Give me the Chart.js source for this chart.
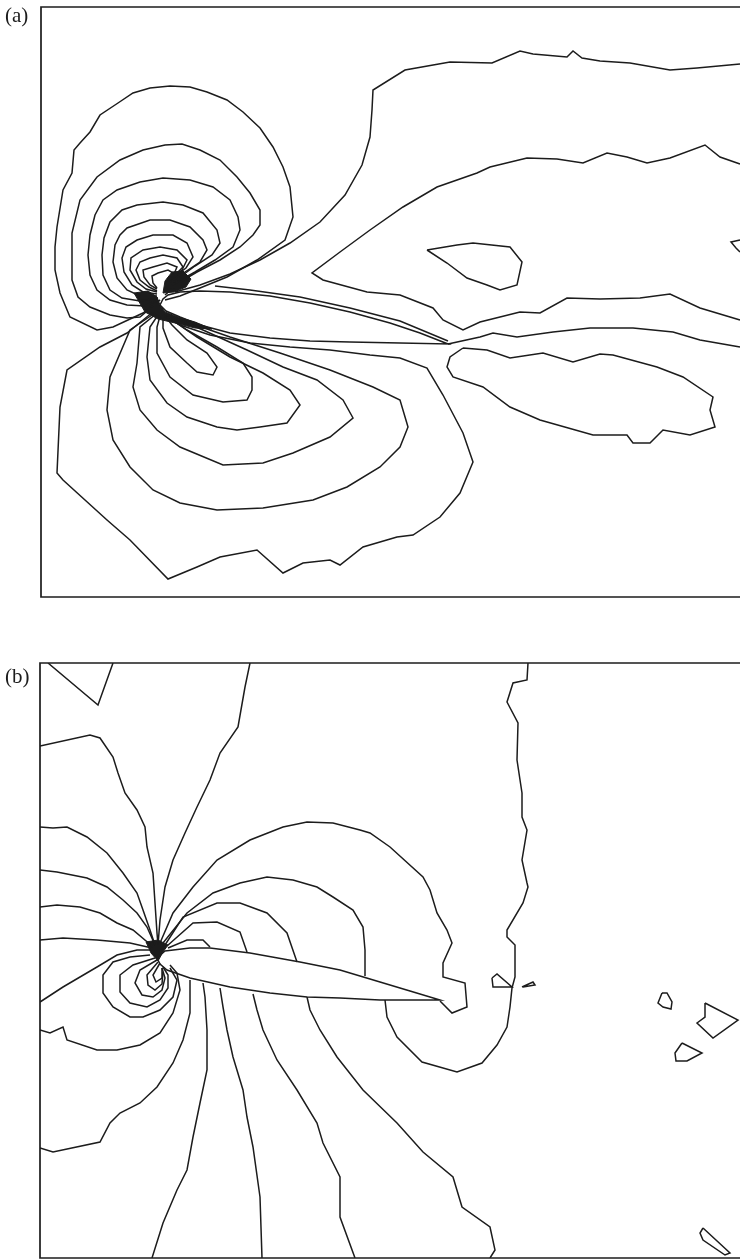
<!DOCTYPE html>
<html>
<head>
<meta charset="utf-8">
<script src="https://cdn.jsdelivr.net/npm/chart.js@4.4.1/dist/chart.umd.min.js"></script>
<style>
  body { margin: 0; background: #fff; width: 740px; height: 1260px; position: relative; overflow: hidden; }
  .panel { position: absolute; left: 0; width: 740px; overflow: hidden; }
  .inner { position: relative; width: 760px; height: 100%; }
  .lbl { position: absolute; left: 5px; font-family: "Liberation Serif", "DejaVu Serif", serif; font-size: 21px; color: #1c1c1c; }
</style>
</head>
<body>
<div class="panel" style="top:0;height:610px"><div class="inner"><canvas id="chartA"></canvas></div></div>
<div class="panel" style="top:620px;height:640px"><div class="inner"><canvas id="chartB"></canvas></div></div>
<div class="lbl" style="top:3px">(a)</div>
<div class="lbl" style="top:664px">(b)</div>
<script>
// ---- panel (a): contour lines, coordinates ----
const aFoil = [[160,305],[163,299],[168,295],[180,292],[200,291],[230,292],[270,296],[310,303],[350,312],[390,323],[420,333],[448,344],
               [400,343],[350,342],[310,341],[270,338],[230,333],[200,325],[180,317],[166,311],[160,305]];
const aBlobUp = [[163,293],[165,281],[172,272],[183,271],[191,279],[186,287],[174,292],[163,293]];
const aBlobLow = [[134,293],[148,291],[157,297],[160,305],[165,312],[178,317],[195,322],[212,329],[195,328],[175,323],[158,319],[145,312],[134,293]];
const aU1 = [[160,300],[143,313],[113,327],[97,330],[70,317],[60,293],[55,270],[55,247],[57,227],[63,190],[72,173],[74,150],[80,143],[90,132],[100,115],[118,103],[133,93],[150,88],[170,86],[190,87],[207,92],[227,100],[243,112],[260,128],[273,147],[283,167],[290,187],[293,217],[285,240],[257,260],[227,277],[200,288],[180,296],[165,300]];
const aU2 = [[160,300],[140,317],[127,318],[110,315],[90,307],[78,297],[72,280],[72,260],[72,233],[80,200],[97,177],[120,160],[143,150],[165,145],[182,144],[200,150],[220,160],[237,177],[250,193],[260,210],[260,225],[253,235],[240,247],[220,260],[197,272],[180,282],[165,295]];
const aU3 = [[158,300],[145,306],[127,305],[110,300],[97,290],[90,275],[88,255],[90,235],[95,215],[103,200],[117,190],[140,182],[163,178],[190,180],[213,187],[230,200],[238,217],[240,230],[233,247],[215,260],[195,272],[172,285]];
const aU4 = [[158,298],[140,301],[122,298],[110,290],[103,275],[102,255],[104,238],[110,222],[122,210],[137,205],[163,202],[183,205],[203,213],[217,230],[220,243],[212,255],[195,266],[172,283]];
const aU5 = [[157,296],[140,296],[127,290],[117,278],[113,262],[115,245],[120,235],[127,228],[150,220],[170,220],[190,227],[203,240],[207,250],[200,262],[185,272],[170,282]];
const aU6 = [[157,294],[143,292],[132,285],[124,272],[122,258],[126,247],[137,240],[153,235],[173,235],[187,243],[193,257],[186,268],[170,280]];
const aU7 = [[157,292],[146,289],[137,282],[130,270],[131,258],[143,250],[160,247],[177,250],[187,260],[182,270],[170,279]];
const aU8 = [[157,291],[149,287],[140,280],[136,270],[140,262],[150,258],[163,255],[177,258],[183,267],[176,274],[168,279]];
const aU9 = [[157,289],[150,285],[144,277],[143,270],[153,267],[167,263],[177,267],[174,274],[167,279]];
const aU10 = [[157,288],[153,283],[152,276],[158,273],[168,270],[177,275],[170,280]];
const aL1 = [[163,318],[163,328],[170,347],[187,363],[197,372],[213,375],[217,367],[207,353],[187,340],[172,325],[165,316]];
const aL2 = [[160,316],[157,327],[157,353],[170,377],[193,395],[223,402],[247,400],[252,390],[252,377],[243,363],[217,347],[187,330],[170,318]];
const aL3 = [[158,315],[150,327],[147,357],[150,380],[167,403],[187,417],[217,427],[237,430],[260,427],[287,423],[300,405],[290,390],[263,373],[230,357],[197,337],[172,320]];
const aL4 = [[156,314],[140,327],[137,363],[133,387],[140,410],[157,430],[180,447],[223,465],[263,463],[293,453],[330,437],[353,418],[343,400],[317,380],[283,367],[247,350],[203,330],[175,318]];
const aL5 = [[155,313],[130,330],[110,377],[107,410],[113,440],[130,467],[153,490],[180,503],[217,510],[263,508],[313,500],[347,487],[380,467],[400,447],[408,427],[400,400],[373,387],[330,370],[280,353],[230,337],[190,323],[168,315]];
const aL6 = [[153,312],[127,333],[100,347],[67,370],[60,407],[57,473],[63,480],[107,520],[130,540],[168,579],[197,567],[220,557],[257,550],[283,573],[303,563],[330,560],[340,565],[363,547],[397,537],[413,535],[440,517],[460,493],[473,462],[463,433],[443,395],[427,368],[400,358],[370,355],[330,350],[290,347],[250,343],[210,335],[180,325],[163,315]];
const aS1 = [[215,286],[250,290],[300,297],[350,308],[400,321],[448,341]];
const aTop = [[740,64],[697,68],[670,70],[630,63],[600,61],[582,58],[573,51],[567,57],[533,54],[520,51],[492,63],[450,62],[405,70],[373,90],[372,110],[370,137],[362,165],[345,195],[320,222],[290,243],[260,260],[230,274],[200,285],[175,292]];
const aWedge = [[740,164],[720,157],[705,145],[670,158],[647,163],[627,157],[607,153],[583,163],[557,159],[527,158],[490,167],[477,173],[437,187],[403,207],[370,230],[340,252],[312,273],[323,280],[367,292],[400,295],[433,308],[443,320],[463,330],[480,322],[500,317],[520,312],[540,313],[567,298],[600,299],[640,298],[670,294],[700,308],[740,320]];
const aWake = [[448,344],[480,337],[493,333],[517,337],[553,332],[590,328],[633,328],[673,332],[700,340],[740,347]];
const aWakeLoop = [[463,348],[450,357],[447,367],[453,377],[483,387],[510,407],[540,420],[593,435],[627,435],[633,443],[650,443],[663,430],[690,435],[715,427],[710,410],[713,397],[683,377],[657,367],[613,355],[600,354],[573,362],[543,353],[510,358],[487,350],[463,348]];
const aIsland = [[427,250],[457,245],[473,243],[510,247],[522,262],[517,285],[500,290],[487,285],[467,278],[447,263],[427,250]];
const aEdge = [[740,240],[731,242],[736,248],[740,252]];

// ---- panel (b) ----
const bFoil = [[157,958],[165,951],[190,948],[210,948],[250,953],[300,962],[340,970],[380,982],[410,991],[440,1000],
               [380,1000],[340,998],[307,997],[270,993],[230,987],[190,978],[167,970],[160,964],[157,958]];
const bBlob = [[146,942],[158,940],[168,945],[163,952],[158,961],[151,953],[146,942]];
const bTri = [[48,663],[98,705],[113,663]];
const bL1 = [[40,746],[90,735],[100,738],[113,757],[118,773],[125,793],[137,810],[145,827],[147,847],[153,873],[155,903],[157,933],[158,945]];
const bL2 = [[250,663],[245,687],[238,727],[220,753],[210,780],[197,807],[185,833],[173,860],[165,887],[160,920],[158,945]];
const bL3 = [[40,827],[53,828],[67,827],[87,837],[107,853],[123,873],[137,893],[143,910],[150,930],[155,945]];
const bL4 = [[40,870],[57,872],[87,878],[107,887],[123,900],[137,913],[147,927],[155,945]];
const bL5 = [[40,907],[57,905],[80,907],[100,913],[117,923],[133,930],[152,946]];
const bL6 = [[40,940],[63,938],[97,940],[130,943],[152,948]];
const bL7 = [[40,1002],[63,987],[97,967],[117,955],[137,950],[153,950]];
const bL8 = [[40,1030],[50,1033],[63,1027],[67,1040],[97,1050],[117,1050],[140,1045],[160,1033],[173,1013],[180,990],[177,973],[170,965]];
const bL9 = [[40,1148],[53,1152],[100,1142],[110,1123],[120,1113],[140,1103],[157,1087],[173,1063],[183,1040],[190,1013],[190,980]];
const bL10 = [[152,1258],[163,1223],[177,1190],[187,1170],[193,1137],[200,1103],[207,1070],[207,1030],[205,997],[203,983]];
const bL11 = [[262,1258],[260,1197],[253,1147],[247,1117],[243,1090],[233,1057],[227,1030],[223,1007],[220,988]];
const bL12 = [[355,1258],[340,1217],[340,1177],[323,1143],[317,1123],[297,1090],[277,1060],[263,1030],[257,1010],[253,994]];
const bL13 = [[307,997],[310,1010],[320,1030],[337,1057],[363,1090],[397,1123],[423,1152],[453,1177],[462,1207],[490,1227],[495,1250],[490,1258]];
const bL14 = [[528,663],[527,680],[513,683],[507,702],[518,723],[517,760],[522,793],[522,817],[527,830],[522,860],[527,883],[528,887],[523,903],[507,930],[507,937],[515,945],[515,977],[512,988],[510,1007],[507,1027],[497,1045],[482,1063],[457,1072],[422,1062],[397,1037],[387,1017],[385,1000]];
const bArc1 = [[160,943],[173,913],[193,887],[217,860],[250,840],[283,827],[307,822],[333,823],[360,830],[370,833],[390,847],[423,877],[430,890],[437,913],[447,930],[452,943],[443,963],[443,977],[465,983],[467,1007],[452,1013],[440,1001]];
const bArc2 = [[163,943],[187,913],[213,893],[240,883],[267,877],[293,880],[317,887],[333,897],[353,910],[363,927],[365,950],[365,976]];
const bArc3 = [[165,945],[183,917],[217,903],[240,903],[267,913],[287,933],[297,962]];
const bArc4 = [[167,946],[193,923],[217,922],[240,932],[247,952]];
const bArc5 = [[168,948],[187,940],[203,940],[210,947]];
const bR1 = [[150,955],[130,957],[113,962],[103,975],[103,993],[113,1007],[130,1017],[143,1017],[160,1010],[173,997],[177,980],[170,968]];
const bR2 = [[155,958],[133,965],[120,975],[120,992],[130,1003],[147,1007],[160,1000],[168,988],[168,975],[163,967]];
const bR3 = [[157,960],[140,970],[135,983],[142,995],[153,997],[162,990],[165,978],[162,968]];
const bR4 = [[158,962],[147,975],[148,985],[155,990],[162,984],[163,972]];
const bR5 = [[160,963],[153,975],[156,982],[162,978],[162,968]];
const bBits = [
  [[492,978],[497,974],[512,987],[500,987],[493,987],[492,978]],
  [[522,987],[533,982],[535,985],[523,987]],
  [[662,993],[667,993],[672,1002],[671,1009],[663,1007],[658,1003],[662,993]],
  [[705,1003],[738,1020],[713,1038],[697,1023],[705,1017],[705,1003]],
  [[682,1043],[702,1053],[687,1061],[676,1061],[675,1053],[682,1043]],
  [[703,1228],[730,1253],[725,1255],[703,1240],[700,1233],[703,1228]]
];

const INK = "#1c1c1c";

function line(pts) {
  return { data: pts.map(([x, y]) => ({ x, y })), showLine: true, pointRadius: 0,
           borderColor: INK, borderWidth: 1.5, tension: 0, fill: false };
}
function blob(pts) {
  return { data: pts.map(([x, y]) => ({ x, y })), showLine: true, pointRadius: 0,
           borderColor: INK, borderWidth: 1, backgroundColor: INK, fill: "shape" };
}

// frame on top, left and bottom edge (the right edge is cut off in the picture)
const framePlugin = {
  id: "frame",
  afterDatasetsDraw(chart) {
    const { ctx, chartArea: a } = chart;
    ctx.save();
    ctx.strokeStyle = INK;
    ctx.lineWidth = 1.7;
    ctx.beginPath();
    ctx.moveTo(a.right + 5, a.top);
    ctx.lineTo(a.left, a.top);
    ctx.lineTo(a.left, a.bottom);
    ctx.lineTo(a.right + 5, a.bottom);
    ctx.stroke();
    ctx.restore();
  }
};

function makeChart(id, datasets, pad, xr, yr) {
  return new Chart(document.getElementById(id), {
    type: "scatter",
    data: { datasets },
    options: {
      responsive: true, maintainAspectRatio: false, animation: false,
      layout: { padding: pad },
      plugins: { legend: { display: false }, tooltip: { enabled: false } },
      scales: {
        x: { type: "linear", display: false, min: xr[0], max: xr[1] },
        y: { type: "linear", display: false, min: yr[0], max: yr[1], reverse: true }
      }
    },
    plugins: [framePlugin]
  });
}

const aSets = [aU1, aU2, aU3, aU4, aU5, aU6, aU7, aU8, aU9, aU10,
  aL1, aL2, aL3, aL4, aL5, aL6, aS1, aTop, aWedge, aWake, aWakeLoop, aIsland, aEdge, aFoil].map(line);
aSets.push(blob(aBlobUp), blob(aBlobLow));
makeChart("chartA", aSets, { left: 41, top: 7, right: 0, bottom: 13 }, [41, 760], [7, 597]);

const bSets = [bTri, bL1, bL2, bL3, bL4, bL5, bL6, bL7, bL8, bL9, bL10, bL11, bL12, bL13, bL14,
  bArc1, bArc2, bArc3, bArc4, bArc5, bR1, bR2, bR3, bR4, bR5, ...bBits, bFoil].map(line);
bSets.push(blob(bBlob));
makeChart("chartB", bSets, { left: 40, top: 43, right: 0, bottom: 2 }, [40, 760], [663, 1258]);
</script>
</body>
</html>
